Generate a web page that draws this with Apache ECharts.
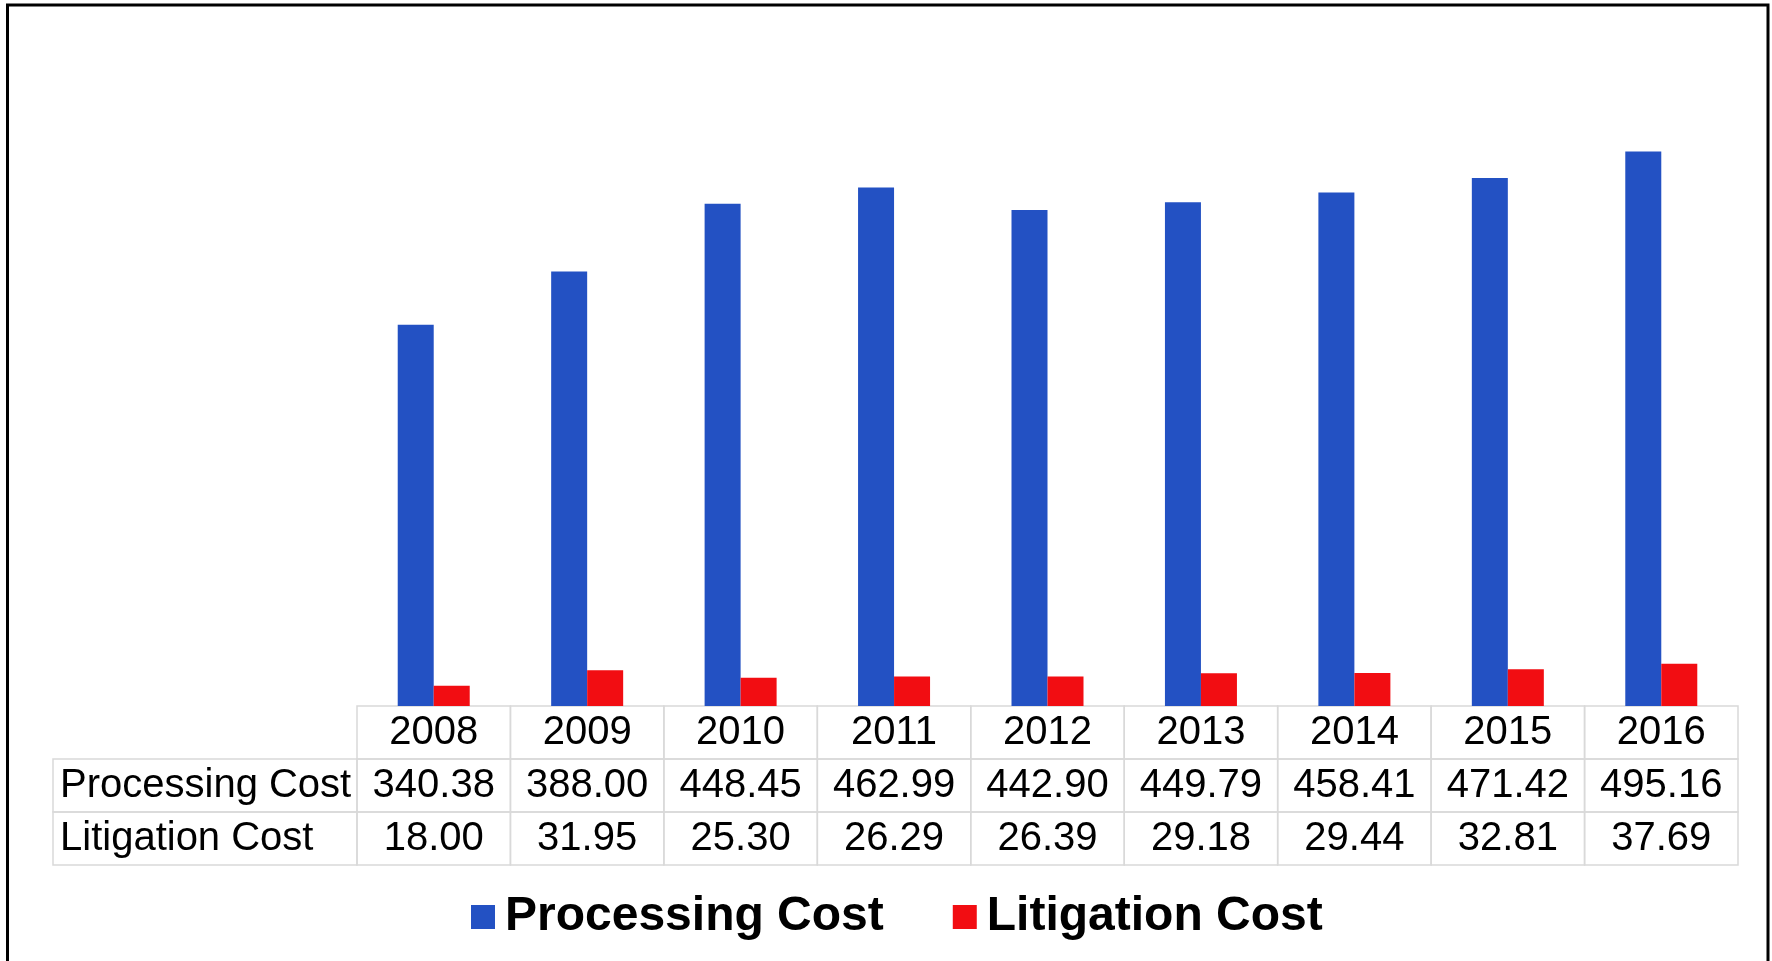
<!DOCTYPE html>
<html>
<head>
<meta charset="utf-8">
<script src="https://cdn.jsdelivr.net/npm/echarts@6/dist/echarts.min.js"></script>
<style>
html,body{margin:0;padding:0;background:#fff;}
#chart{width:1772px;height:961px;}
</style>
</head>
<body>
<div id="chart"></div>
<script>
// ---- data ----
const years = ['2008','2009','2010','2011','2012','2013','2014','2015','2016'];
const processingCost = [340.38, 388.00, 448.45, 462.99, 442.90, 449.79, 458.41, 471.42, 495.16];
const litigationCost = [18.00, 31.95, 25.30, 26.29, 26.39, 29.18, 29.44, 32.81, 37.69];
const seriesNames = ['Processing Cost', 'Litigation Cost'];

// ---- layout ----
const W = 1772, H = 961;
const gridLeft = 357, gridRight = 34, gridTop = 34, gridBottom = 255;
const axisY = H - gridBottom;
const cellW = (W - gridLeft - gridRight) / years.length;
const rowH = 53;
const labelColLeft = 53;
const fontFam = '"Liberation Sans", Arial, sans-serif';
const gridColor = '#d9d9d9';

const chart = echarts.init(document.getElementById('chart'), null, {renderer: 'canvas'});

const cellStyle = {
  width: cellW, height: rowH, lineHeight: rowH,
  align: 'center', fontSize: 40, fontFamily: fontFam, color: '#000',
  borderColor: gridColor, borderWidth: 1.5
};

chart.setOption({
  animation: false,
  backgroundColor: '#fff',
  grid: {left: gridLeft, right: gridRight, top: gridTop, bottom: gridBottom},
  xAxis: {
    type: 'category',
    data: years,
    axisLine: {show: false},
    axisTick: {show: false},
    axisLabel: {
      interval: 0,
      margin: 0,
      verticalAlign: 'top',
      formatter: function (v, i) {
        return '{c|' + v + '}\n{c|' + processingCost[i].toFixed(2) + '}\n{c|' + litigationCost[i].toFixed(2) + '}';
      },
      rich: {c: cellStyle}
    }
  },
  yAxis: {type: 'value', min: 0, max: 600, interval: 100, show: false},
  legend: {
    data: seriesNames,
    left: 466,
    top: 888,
    icon: 'rect',
    itemWidth: 24,
    itemHeight: 24,
    itemGap: 69,
    textStyle: {fontSize: 48, fontWeight: 'bold', fontFamily: fontFam, color: '#000', padding: [0, 0, 0, 5]}
  },
  series: [
    {name: seriesNames[0], type: 'bar', data: processingCost, barWidth: 36, barGap: '0%',
     itemStyle: {color: '#2351C3'}},
    {name: seriesNames[1], type: 'bar', data: litigationCost, barWidth: 36, barGap: '0%',
     itemStyle: {color: '#F20D12'}}
  ],
  graphic: [
    {
      type: 'text',
      x: labelColLeft,
      y: axisY + rowH,
      style: {
        text: '{h|' + seriesNames[0] + '}\n{h|' + seriesNames[1] + '}',
        rich: {
          h: {width: gridLeft - labelColLeft - 7, height: rowH, lineHeight: rowH, padding: [0, 0, 0, 7],
              fontSize: 40, fontFamily: fontFam, color: '#000', borderColor: gridColor, borderWidth: 1.5, align: 'left'}
        }
      }
    },
    {
      type: 'rect',
      shape: {x: 7.5, y: 5, width: 1760.5, height: 1000},
      style: {fill: 'none', stroke: '#000', lineWidth: 3}
    }
  ]
});
</script>
</body>
</html>
